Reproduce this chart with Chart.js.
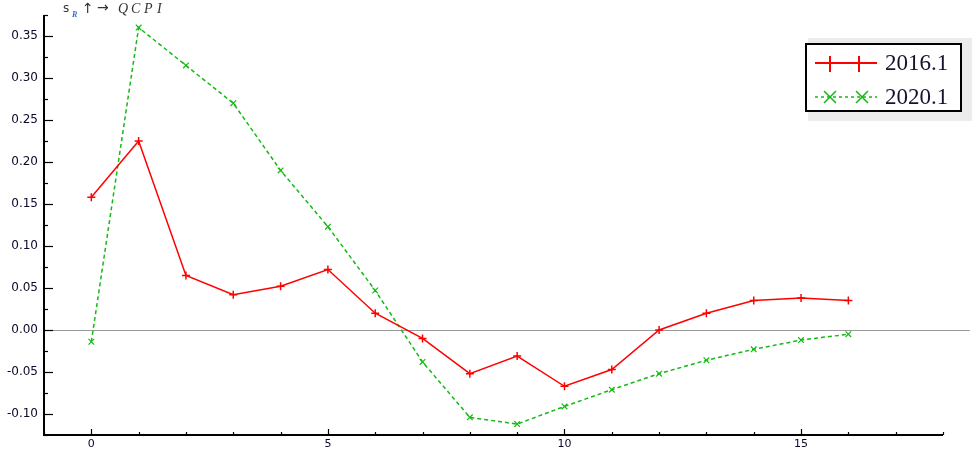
<!DOCTYPE html>
<html><head><meta charset="utf-8">
<script src="https://cdn.jsdelivr.net/npm/chart.js@4/dist/chart.umd.min.js"></script>
<style>html,body{margin:0;padding:0;background:#fff}canvas{display:block}</style>
</head><body>
<canvas id="c" width="976" height="453"></canvas>
<script>
const periods = [0,1,2,3,4,5,6,7,8,9,10,11,12,13,14,15,16];
const series2016 = [0.158,0.225,0.065,0.042,0.052,0.072,0.020,-0.010,-0.052,-0.031,-0.067,-0.047,0.000,0.020,0.035,0.038,0.035];
const series2020 = [-0.014,0.360,0.315,0.270,0.190,0.123,0.047,-0.038,-0.104,-0.112,-0.091,-0.071,-0.052,-0.036,-0.023,-0.012,-0.005];
const legendLabels = ['2016.1','2020.1'];
const xTickLabels = [0,5,10,15];
const yTickLabels = [-0.10,-0.05,0.00,0.05,0.10,0.15,0.20,0.25,0.30,0.35];

const RED = 'rgb(255,0,0)';
const GREEN = 'rgb(20,185,20)';

const decor = {
  id: 'decor',
  beforeDatasetsDraw(chart) {
    const {ctx, chartArea: a, scales: {x, y}} = chart;
    ctx.save();
    const y0 = y.getPixelForValue(0);
    ctx.strokeStyle = '#9a9a9a'; ctx.lineWidth = 1;
    ctx.beginPath(); ctx.moveTo(a.left, Math.round(y0)+0.5); ctx.lineTo(970, Math.round(y0)+0.5); ctx.stroke();
    ctx.restore();
  },
  afterDraw(chart) {
    const {ctx, chartArea: a, scales: {x, y}} = chart;
    ctx.save();
    ctx.strokeStyle = '#000'; ctx.lineWidth = 2;
    ctx.beginPath(); ctx.moveTo(a.left, a.top); ctx.lineTo(a.left, a.bottom + 1); ctx.stroke();
    ctx.beginPath(); ctx.moveTo(a.left, a.bottom); ctx.lineTo(a.right, a.bottom); ctx.stroke();
    ctx.lineWidth = 1.2;
    for (let v = -1; v <= 18; v++) {
      const px = Math.round(x.getPixelForValue(v)) + 0.5;
      const len = (v % 5 === 0) ? 6 : 3;
      ctx.beginPath(); ctx.moveTo(px, a.bottom); ctx.lineTo(px, a.bottom - len); ctx.stroke();
    }
    for (let i = -5; i <= 15; i++) {
      const v = i * 0.025;
      const py = Math.round(y.getPixelForValue(v)) + 0.5;
      const len = (i % 2 === 0) ? 9 : 4;
      ctx.beginPath(); ctx.moveTo(a.left, py); ctx.lineTo(a.left + len, py); ctx.stroke();
    }
    // title
    ctx.fillStyle = '#333';
    ctx.textBaseline = 'alphabetic';
    ctx.font = '12px "DejaVu Sans"';
    ctx.fillText('s', 63, 12);
    ctx.fillStyle = '#3a6fd0';
    ctx.font = 'italic bold 8px "Liberation Serif"';
    ctx.fillText('R', 72, 17);
    ctx.fillStyle = '#333';
    ctx.font = '14px "DejaVu Sans"';
    ctx.fillText('\u2191', 82, 13);
    ctx.fillText('\u2192', 97, 12);
    ctx.font = 'italic 14px "Liberation Serif"';
    const letters = ['Q','C','P','I'];
    const lx = [118,131,144,157];
    letters.forEach((ch,i)=>ctx.fillText(ch, lx[i], 13));
    // legend
    ctx.fillStyle = '#ececec';
    ctx.fillRect(808, 38, 164, 83);
    ctx.fillStyle = '#fff';
    ctx.fillRect(805, 43, 157, 69);
    ctx.strokeStyle = '#000'; ctx.lineWidth = 2;
    ctx.strokeRect(806, 44, 155, 67);
    ctx.strokeStyle = RED; ctx.lineWidth = 2;
    ctx.beginPath(); ctx.moveTo(815, 63); ctx.lineTo(877, 63); ctx.stroke();
    [830, 859].forEach(cx => {
      ctx.beginPath(); ctx.moveTo(cx, 56); ctx.lineTo(cx, 72); ctx.stroke();
    });
    ctx.strokeStyle = GREEN; ctx.lineWidth = 1.5;
    ctx.setLineDash([3,3]);
    ctx.beginPath(); ctx.moveTo(815, 97); ctx.lineTo(877, 97); ctx.stroke();
    ctx.setLineDash([]);
    [830, 862].forEach(cx => {
      ctx.beginPath(); ctx.moveTo(cx-6, 91); ctx.lineTo(cx+6, 103); ctx.moveTo(cx+6, 91); ctx.lineTo(cx-6, 103); ctx.stroke();
    });
    ctx.fillStyle = '#1a1030';
    ctx.font = '23px "Liberation Serif"';
    ctx.textBaseline = 'middle';
    ctx.fillText(legendLabels[0], 885, 64);
    ctx.fillText(legendLabels[1], 885, 98);
    ctx.restore();
  }
};

const near = (v, arr) => arr.some(t => Math.abs(t - v) < 1e-6);

new Chart(document.getElementById('c'), {
  type: 'line',
  data: {
    datasets: [
      { label: legendLabels[0], data: periods.map((p,i)=>({x:p, y:series2016[i]})),
        borderColor: RED, backgroundColor: RED, borderWidth: 1.5,
        pointStyle: 'cross', pointRadius: 4, pointBorderWidth: 1.5, tension: 0, fill: false },
      { label: legendLabels[1], data: periods.map((p,i)=>({x:p, y:series2020[i]})),
        borderColor: GREEN, backgroundColor: GREEN, borderWidth: 1.5, borderDash: [4,3],
        pointStyle: 'crossRot', pointRadius: 4, pointBorderWidth: 1.2, tension: 0, fill: false }
    ]
  },
  options: {
    responsive: false, animation: false,
    layout: { padding: { top: 15, right: 33, left: 0, bottom: 0 } },
    plugins: { legend: { display: false }, title: { display: false }, tooltip: { enabled: false } },
    scales: {
      x: { type: 'linear', min: -1, max: 18,
        grid: { display: false, drawTicks: false }, border: { display: false },
        afterFit(s) { s.height = 18; },
        ticks: { stepSize: 1, autoSkip: false, maxRotation: 0, padding: 3, color: '#0a0a2a',
          font: { family: 'DejaVu Sans', size: 11 },
          callback: v => near(v, xTickLabels) ? String(Math.round(v)) : '' } },
      y: { type: 'linear', min: -0.125, max: 0.375,
        grid: { display: false, drawTicks: false }, border: { display: false },
        afterFit(s) { s.width = 44; },
        ticks: { stepSize: 0.025, autoSkip: false, padding: 6, color: '#0a0a2a',
          font: { family: 'DejaVu Sans', size: 12 },
          callback: v => near(v, yTickLabels) ? v.toFixed(2) : '' } }
    }
  },
  plugins: [decor]
});
</script>
</body></html>
